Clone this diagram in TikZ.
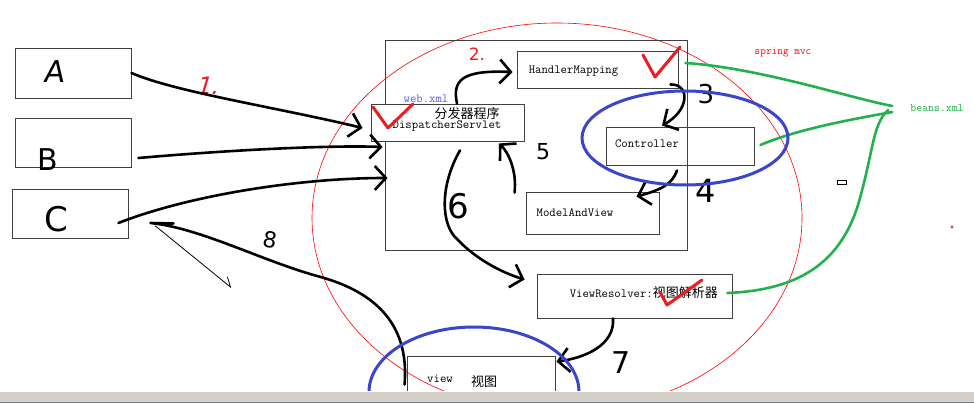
\documentclass[tikz,border=0pt]{standalone}
\usepackage{fontspec}
\newfontfamily\cjk{Noto Sans CJK SC}
\newfontfamily\hand{DejaVu Sans}
\usetikzlibrary{arrows.meta}
\definecolor{boxline}{HTML}{404040}
\definecolor{inkblue}{HTML}{3B45C9}
\definecolor{inkgreen}{HTML}{22B14C}
\definecolor{inkred}{HTML}{ED1C24}
\definecolor{webblue}{HTML}{5A5AFF}
\definecolor{bargray}{HTML}{D4D0C8}
\tikzset{
  box/.style={draw=boxline, line width=0.9pt, inner sep=0pt, fill=white},
  openbox/.style={draw=boxline, line width=0.9pt, inner sep=0pt},
  lbl/.style={inner sep=0pt, font=\fontsize{12.4}{13}\selectfont\ttfamily},
  cjklbl/.style={inner sep=0pt, font=\fontsize{13}{14}\selectfont\cjk},
  handtxt/.style={inner sep=0pt, font=\hand},
  ink/.style={line width=2.6pt, line cap=round, line join=round, draw=black},
  inkarrow/.style={ink, -{Straight Barb[length=11pt,width=24pt]}},
  greenink/.style={line width=2.6pt, line cap=round, line join=round, draw=inkgreen},
  redcheck/.style={line width=3pt, line cap=round, line join=round, draw=inkred},
  blueel/.style={line width=3pt, draw=inkblue},
}
\begin{document}
\begin{tikzpicture}[x=1pt,y=-1pt]
\useasboundingbox (0,0) rectangle (974,403);
\fill[white] (0,0) rectangle (974,403);

% red thin ellipse
\draw[red, line width=0.6pt] (557,218) ellipse [x radius=245, y radius=195];

% big frame
\node[openbox, minimum width=302pt, minimum height=210pt] (F) at (536,145) {};

% client boxes
\node[box, minimum width=116pt, minimum height=50pt] (A) at (73,73) {};
\node[box, minimum width=116pt, minimum height=49pt] (B) at (73,142.5) {};
\node[box, minimum width=116pt, minimum height=49pt] (C) at (70,213.5) {};

% inner boxes
\node[box, minimum width=153pt, minimum height=37pt] (D) at (447.5,122.5) {};
\node[box, minimum width=161pt, minimum height=37pt] (H) at (597.5,69.5) {};
\node[openbox, minimum width=148pt, minimum height=38pt] (Ct) at (680,146) {};
\node[box, minimum width=133pt, minimum height=42pt] (M) at (592.5,213) {};
\node[box, minimum width=195pt, minimum height=44pt] (V) at (634.5,296) {};
\node[openbox, minimum width=148pt, minimum height=50pt] (W) at (481,381) {};

% texts
\node[lbl] (tD) at (447,126) {DispatcherServlet};
\node[cjklbl] (tD2) at (467,114) {分发器程序};
\node[lbl, text=webblue] (tweb) at (426,99) {web.xml};
\node[lbl] (tH) at (573.5,71) {HandlerMapping};
\node[lbl] (tC) at (647,144) {Controller};
\node[lbl] (tM) at (575,213) {ModelAndView};
\node[inner sep=0pt, anchor=east] (tV) at (718,293) {{\fontsize{12.4}{13}\selectfont\ttfamily ViewResolver:}{\fontsize{13}{14}\selectfont\cjk 视图解析器}};
\node[lbl] (tW) at (440,379) {view};
\node[cjklbl] (tW2) at (484,382) {视图};
\node[lbl, text=red, font=\fontsize{11}{12}\selectfont\ttfamily] (tspring) at (783,52) {spring mvc};
\node[lbl, text=inkgreen, font=\fontsize{11.5}{12}\selectfont\ttfamily] (bx) at (937,108) {beans.xml};

% handwritten labels
\node[handtxt, font=\hand\fontsize{30}{30}\selectfont, xslant=0.15] (hA) at (55,72) {A};
\node[handtxt, font=\hand\fontsize{30}{30}\selectfont] (hB) at (48,160) {B};
\node[handtxt, font=\hand\fontsize{34}{34}\selectfont] (hC) at (56,219) {C};
\node[handtxt, text=inkred, font=\hand\fontsize{24}{24}\selectfont, xslant=0.3] (h1) at (209,86) {1.};
\node[handtxt, text=inkred, font=\hand\fontsize{17}{17}\selectfont] (h2) at (477,54) {2.};
\node[handtxt, font=\hand\fontsize{26}{26}\selectfont] (h3) at (706,94) {3};
\node[handtxt, font=\hand\fontsize{32}{32}\selectfont] (h4) at (706,191) {4};
\node[handtxt, font=\hand\fontsize{22}{22}\selectfont] (h5) at (543,152) {5};
\node[handtxt, font=\hand\fontsize{34}{34}\selectfont] (h6) at (458,206) {6};
\node[handtxt, font=\hand\fontsize{30}{30}\selectfont] (h7) at (621,363) {7};
\node[handtxt, font=\hand\fontsize{22}{22}\selectfont, rotate=-10] (h8) at (270,240) {8};

% black arrows
\draw[inkarrow] (A.east) .. controls (175,92) and (280,108) .. ([xshift=-8pt,yshift=-5.5pt]D.west);
\draw[inkarrow] ([xshift=7pt,yshift=-15.5pt]B.east) .. controls (230,150) and (330,145) .. ([xshift=-2pt,yshift=-2pt]F.west);
\draw[inkarrow] ([xshift=-10pt,yshift=-9.5pt]C.east) .. controls (190,195) and (300,178) .. ([xshift=3pt,yshift=-33pt]F.west);
\draw[inkarrow] ([xshift=9.5pt]D.north) .. controls (452,80) and (462,70) .. ([xshift=-4pt,yshift=-2.5pt]H.west);
\draw[inkarrow] ([xshift=-8pt,yshift=4pt]H.south east) .. controls (690,84) and (690,110) .. ([xshift=-18pt,yshift=1pt]Ct.north);
\draw[inkarrow] ([xshift=-3pt,yshift=-5pt]Ct.south) .. controls (672,185) and (660,190) .. ([xshift=-23pt,yshift=-5pt]M.north east);
\draw[inkarrow] ([xshift=-11pt,yshift=-1pt]M.north west) .. controls (517,170) and (508,152) .. ([xshift=51.5pt,yshift=-2pt]D.south);
\draw[inkarrow] ([xshift=12.5pt,yshift=-9pt]D.south) .. controls (440,185) and (440,225) .. (458,240) .. controls (475,258) and (500,272) .. ([xshift=-12pt,yshift=-6pt]V.north west);
\draw[inkarrow] ([xshift=-21.5pt]V.south) .. controls (615,345) and (585,358) .. ([xshift=1pt,yshift=-6pt]W.north east);
\draw[ink] ([xshift=-2pt,yshift=-29pt]W.north west) .. controls (410,320) and (370,290) .. (317,276) .. controls (260,260) and (200,228) .. ([xshift=22pt,yshift=-9.5pt]C.east) -- ([xshift=45pt,yshift=-10pt]C.east);
\draw[line width=0.8pt, line cap=round] ([xshift=27pt,yshift=-12.5pt]C.east) -- ([xshift=102pt,yshift=-73.5pt]C.east) -- ([xshift=99pt,yshift=-63.5pt]C.east);

% green lines to beans.xml
\draw[greenink] ([xshift=7pt,yshift=6.5pt]H.east) .. controls (760,68) and (850,98) .. ([xshift=-18pt,yshift=2pt]bx.west);
\draw[greenink] ([xshift=6pt,yshift=1pt]Ct.east) .. controls (800,128) and (860,118) .. ([xshift=-18pt,yshift=-4pt]bx.west);
\draw[greenink] ([xshift=-5pt,yshift=3pt]V.east) .. controls (800,290) and (840,262) .. (858,205) .. controls (874,150) and (872,125) .. ([xshift=-22pt,yshift=-2pt]bx.west);

% blue ellipses
\draw[blueel] (685,138) ellipse [x radius=103, y radius=47];
\draw[blueel] (474,392) ellipse [x radius=105, y radius=65];

% red checks
\draw[redcheck] (373,107) -- (388,128) -- (413,104);
\draw[redcheck] (643,55) -- (655,77) -- (680,47);
\draw[redcheck] (660,292) -- (667,305) -- (702,280);

% small marks
\draw[line width=0.8pt] (837,180) rectangle (846,184);
\draw[red, line width=0.5pt] (952,227) circle [radius=1.2];

% bottom bar
\fill[bargray] (0,391) rectangle (974,403);
\draw[white, line width=0.8pt] (0,391.5) -- (974,391.5);
\draw[gray, line width=0.8pt] (0,402.5) -- (974,402.5);
\end{tikzpicture}
\end{document}
